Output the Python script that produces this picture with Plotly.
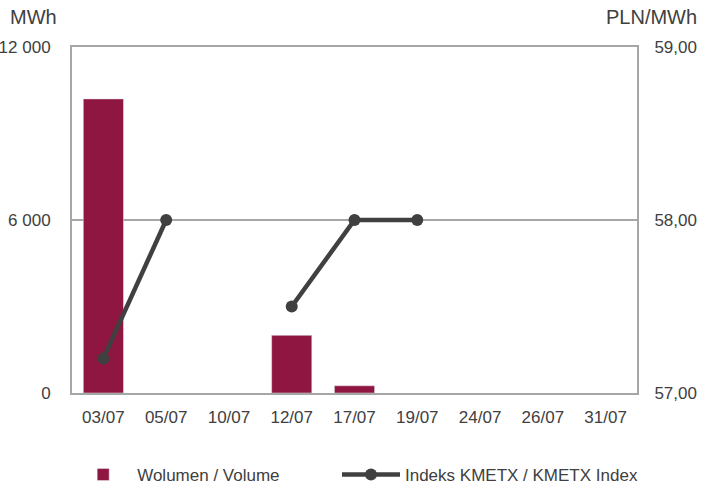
import plotly.graph_objects as go

categories = ["03/07", "05/07", "10/07", "12/07", "17/07", "19/07", "24/07", "26/07", "31/07"]
volume = [10200, None, None, 2000, 250, None, None, None, None]
index_kmetx = [57.2, 58.0, None, 57.5, 58.0, 58.0, None, None, None]

FONT = "Liberation Sans, Arial"
TXT = "#404040"
GRID = "#a6a6a6"

fig = go.Figure()
fig.add_trace(go.Bar(x=categories, y=volume, name="Wolumen / Volume",
                     marker_color="#8E1640", yaxis="y", legend="legend"))
fig.add_trace(go.Scatter(x=categories, y=index_kmetx, name="Indeks KMETX / KMETX Index",
                         mode="lines+markers", yaxis="y2", connectgaps=False,
                         line=dict(color="#404040", width=4.5),
                         marker=dict(color="#404040", size=12), legend="legend2"))

legend_common = dict(orientation="h", xanchor="left", y=-0.237, yanchor="middle",
                     font=dict(family=FONT, size=17, color=TXT), itemwidth=58,
                     bgcolor="rgba(0,0,0,0)")

fig.update_layout(
    width=705, height=485,
    margin=dict(l=72, r=68, t=47, b=92, autoexpand=False),
    paper_bgcolor="white", plot_bgcolor="white",
    font=dict(family=FONT, size=17, color=TXT),
    bargap=0.36,
    showlegend=True,
    legend=dict(x=-0.005, **legend_common),
    legend2=dict(x=0.469, **legend_common),
    xaxis=dict(type="category", range=[-0.5, len(categories) - 0.5],
               showline=True, linecolor=GRID, linewidth=2, mirror=True,
               ticks="outside", ticklen=8, tickcolor="rgba(0,0,0,0)", automargin=False,
               showgrid=False, tickfont=dict(size=17, color=TXT)),
    yaxis=dict(range=[0, 12000], tickvals=[0, 6000, 12000], automargin=False,
               ticktext=["0", "6 000", "12 000"], showline=True, linecolor=GRID, linewidth=2,
               showgrid=True, gridcolor=GRID, gridwidth=2, zeroline=False,
               ticks="outside", ticklen=16, tickcolor="rgba(0,0,0,0)",
               tickfont=dict(size=17, color=TXT)),
    yaxis2=dict(range=[57, 59], tickvals=[57, 58, 59], ticktext=["57,00", "58,00", "59,00"],
                overlaying="y", side="right", showline=True, linecolor=GRID, linewidth=2,
                showgrid=False, zeroline=False, automargin=False,
                ticks="outside", ticklen=12, tickcolor="rgba(0,0,0,0)",
                tickfont=dict(size=17, color=TXT)),
    annotations=[
        dict(text="MWh", xref="paper", yref="paper", x=-0.113, y=1.0, yshift=30,
             xanchor="left", yanchor="middle", showarrow=False,
             font=dict(family=FONT, size=20, color=TXT)),
        dict(text="PLN/MWh", xref="paper", yref="paper", x=1.11, y=1.0, yshift=30,
             xanchor="right", yanchor="middle", showarrow=False,
             font=dict(family=FONT, size=20, color=TXT)),
    ],
)

fig.write_html("out.html", config={"displayModeBar": False},
               post_script="document.body.style.margin='0';")
